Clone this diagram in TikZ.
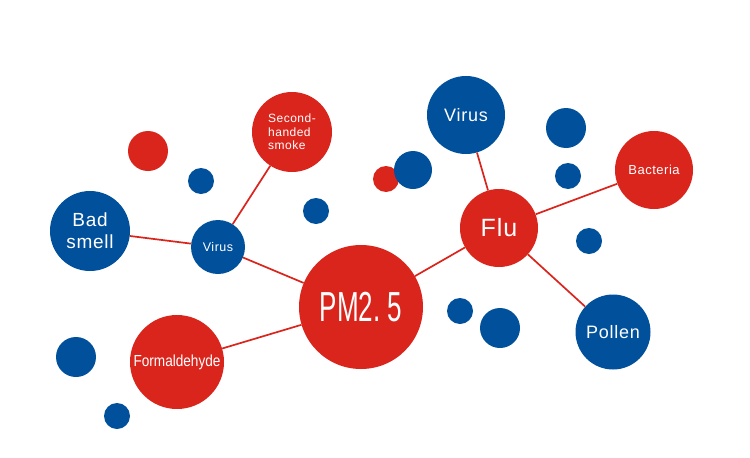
\documentclass[tikz,border=0pt]{standalone}
\usepackage{fontspec}
\setmainfont{Liberation Sans}
\newfontfamily\pmfont[FakeStretch=0.62]{Liberation Sans}
\newfontfamily\narrowfont[FakeStretch=0.85]{Liberation Sans}
\newfontfamily\spacedfont[LetterSpace=4]{Liberation Sans}
\usepackage{tikz}
\usepackage{xcolor}

\begin{document}
\begin{tikzpicture}[x=1pt, y=-1pt, every node/.style={text=white}]
		% Define colors
		\definecolor{bubblered}{RGB}{218, 37, 29}
		\definecolor{bubbleblue}{RGB}{0, 80, 155}

		% Styles
		\tikzstyle{red_bubble} = [circle, fill=bubblered, inner sep=0pt, align=center]
		\tikzstyle{blue_bubble} = [circle, fill=bubbleblue, inner sep=0pt, align=center]
		\tikzstyle{link} = [draw=bubblered, line width=1.7pt]

		% Canvas
		\useasboundingbox[fill=white] (0,0) rectangle (750,458);

		% Decorative dots
		\node[red_bubble, minimum size=40pt] (dotA) at (148, 151) {};
		\node[blue_bubble, minimum size=26pt] (dotB) at (201, 181) {};
		\node[blue_bubble, minimum size=26pt] (dotC) at (316, 211) {};
		\node[red_bubble, minimum size=26pt] (dotD) at (386, 179) {};
		\node[blue_bubble, minimum size=38pt] (dotE) at (413, 170) {};
		\node[blue_bubble, minimum size=40pt] (dotF) at (566, 128) {};
		\node[blue_bubble, minimum size=26pt] (dotG) at (568, 176) {};
		\node[blue_bubble, minimum size=26pt] (dotH) at (589, 241) {};
		\node[blue_bubble, minimum size=26pt] (dotI) at (460, 311) {};
		\node[blue_bubble, minimum size=40pt] (dotJ) at (500, 328) {};
		\node[blue_bubble, minimum size=40pt] (dotK) at (76, 357) {};
		\node[blue_bubble, minimum size=26pt] (dotL) at (117, 416) {};

		% Main bubbles
		\node[red_bubble, minimum size=124pt, font=\pmfont\fontsize{42}{42}\selectfont] (pm) at (361, 307) {PM2.\,5};
		\node[red_bubble, minimum size=78pt, font=\spacedfont\fontsize{25}{25}\selectfont] (flu) at (499, 228) {Flu};
		\node[blue_bubble, minimum size=78pt, font=\spacedfont\fontsize{18}{18}\selectfont] (virustop) at (466, 115) {Virus};
		\node[red_bubble, minimum size=78pt, font=\spacedfont\fontsize{13}{13}\selectfont] (bacteria) at (654, 170) {Bacteria};
		\node[blue_bubble, minimum size=75pt, font=\spacedfont\fontsize{18}{18}\selectfont] (pollen) at (613, 332) {Pollen};
		\node[blue_bubble, minimum size=54pt, font=\spacedfont\fontsize{12.5}{12.5}\selectfont] (virus) at (218, 247) {Virus};
		\node[blue_bubble, minimum size=80pt, font=\spacedfont\fontsize{19}{22}\selectfont] (smell) at (90, 231) {Bad\\smell};
		\node[red_bubble, minimum size=80pt, align=left, font=\spacedfont\fontsize{12}{13.5}\selectfont] (smoke) at (292, 132) {Second-\\handed\\smoke};
		\node[red_bubble, minimum size=94pt, font=\narrowfont\fontsize{16}{16}\selectfont] (formal) at (177, 362) {Formaldehyde};

		% Links
		\draw[link] (pm) -- (flu);
		\draw[link] (pm) -- (virus);
		\draw[link] (pm) -- (formal);
		\draw[link] (virus) -- (smell);
		\draw[link] (virus) -- (smoke);
		\draw[link] (flu) -- (virustop);
		\draw[link] (flu) -- (bacteria);
		\draw[link] (flu) -- (pollen);

	\end{tikzpicture}
\end{document}
